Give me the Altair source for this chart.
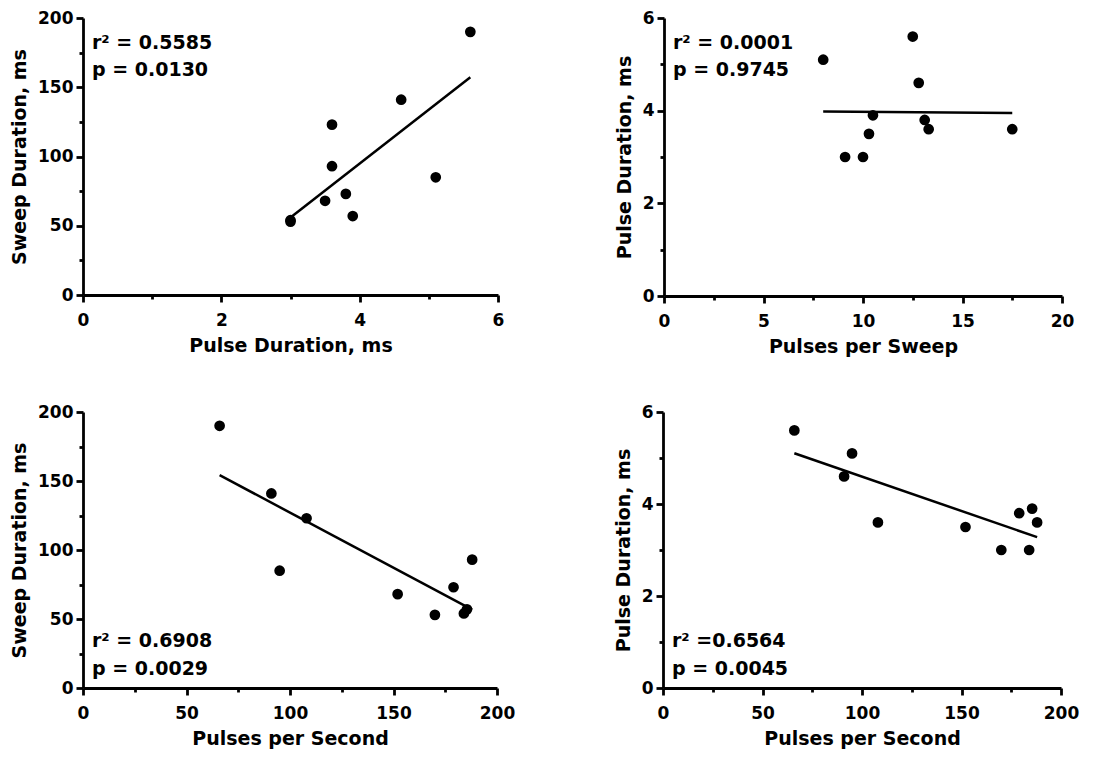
import altair as alt
import pandas as pd

pulse_duration = [5.6, 4.6, 5.1, 3.6, 3.5, 3.0, 3.8, 3.0, 3.9, 3.6]        # ms
sweep_duration = [190, 141, 85, 123, 68, 53, 73, 54, 57, 93]              # ms
pulses_per_second = [66, 91, 95, 108, 152, 170, 179, 184, 185.5, 188]
pulses_per_sweep = [12.5, 12.8, 8.0, 13.3, 10.3, 9.1, 13.1, 10.0, 10.5, 17.5]

ann_top_left = ["r\u00b2 = 0.5585", "p = 0.0130"]
ann_top_right = ["r\u00b2 = 0.0001", "p = 0.9745"]
ann_bottom_left = ["r\u00b2 = 0.6908", "p = 0.0029"]
ann_bottom_right = ["r\u00b2 =0.6564", "p = 0.0045"]

ticks_pd_major = [0, 2, 4, 6]
ticks_pd_minor = [1, 3, 5]
ticks_sd_major = [0, 50, 100, 150, 200]
ticks_sd_minor = [25, 75, 125, 175]
ticks_pps_major = [0, 5, 10, 15, 20]
ticks_pps_minor = [2.5, 7.5, 12.5, 17.5]
ticks_rate_major = [0, 50, 100, 150, 200]
ticks_rate_minor = [25, 75, 125, 175]

FONT = "DejaVu Sans"

df = pd.DataFrame({
    "pd": pulse_duration,
    "sd": sweep_duration,
    "rate": pulses_per_second,
    "pps": pulses_per_sweep,
})


def main_axis(values, orient, label_pad):
    return alt.Axis(values=values, orient=orient, tickSize=7, tickWidth=2.8,
                    tickColor="black", domainWidth=2.8, domainColor="black",
                    labelPadding=label_pad, labelFlush=False, labelOverlap=False,
                    titlePadding=8, grid=False, labelFont=FONT,
                    labelFontWeight="bold", labelFontSize=17, labelColor="black",
                    titleFont=FONT, titleFontWeight="bold", titleFontSize=19,
                    titleColor="black")


def minor_axis(values, orient):
    return alt.Axis(values=values, orient=orient, tickSize=4, tickWidth=2.8,
                    tickColor="black", labels=False, domain=False, grid=False)


def panel(xf, yf, xtitle, ytitle, xdom, xmaj, xmin, ydom, ymaj, ymin, w, h,
          ann, ann_y):
    base = alt.Chart(df)
    xs = alt.Scale(domain=xdom, nice=False, zero=True)
    ys = alt.Scale(domain=ydom, nice=False, zero=True)
    pts = base.mark_circle(size=115, color="black", opacity=1).encode(
        x=alt.X(f"{xf}:Q", scale=xs, axis=main_axis(xmaj, "bottom", 10),
                title=xtitle),
        y=alt.Y(f"{yf}:Q", scale=ys, axis=main_axis(ymaj, "left", 3),
                title=ytitle),
    )
    line = base.transform_regression(xf, yf).mark_line(
        color="black", strokeWidth=2.5).encode(
        x=alt.X(f"{xf}:Q", axis=None),
        y=alt.Y(f"{yf}:Q", axis=None),
    )
    minor = base.mark_point(opacity=0).encode(
        x=alt.X(f"{xf}:Q", axis=minor_axis(xmin, "bottom"), title=None),
        y=alt.Y(f"{yf}:Q", axis=minor_axis(ymin, "left"), title=None),
    )
    texts = []
    for line_txt, yv in zip(ann, ann_y):
        texts.append(
            alt.Chart(pd.DataFrame({"t": [line_txt]})).mark_text(
                align="left", baseline="alphabetic", font=FONT,
                fontWeight="bold", fontSize=19, color="black").encode(
                text="t:N", x=alt.value(9), y=alt.value(yv))
        )
    return alt.layer(pts, line, minor, *texts).resolve_axis(
        x="independent", y="independent").properties(width=w, height=h)


p1 = panel("pd", "sd", "Pulse Duration, ms", "Sweep Duration, ms",
           [0, 6], ticks_pd_major, ticks_pd_minor,
           [0, 200], ticks_sd_major, ticks_sd_minor, 415, 277,
           ann_top_left, [31, 58])
p2 = panel("pps", "pd", "Pulses per Sweep", "Pulse Duration, ms",
           [0, 20], ticks_pps_major, ticks_pps_minor,
           [0, 6], ticks_pd_major, ticks_pd_minor, 398, 278,
           ann_top_right, [31, 58])
p3 = panel("rate", "sd", "Pulses per Second", "Sweep Duration, ms",
           [0, 200], ticks_rate_major, ticks_rate_minor,
           [0, 200], ticks_sd_major, ticks_sd_minor, 414, 276,
           ann_bottom_left, [235, 263])
p4 = panel("rate", "pd", "Pulses per Second", "Pulse Duration, ms",
           [0, 200], ticks_rate_major, ticks_rate_minor,
           [0, 6], ticks_pd_major, ticks_pd_minor, 398, 276,
           ann_bottom_right, [235, 263])

chart = alt.vconcat(
    alt.hconcat(p1, p2, spacing=111),
    alt.hconcat(p3, p4, spacing=99),
    spacing=47,
).properties(
    padding={"left": 10, "top": 9, "right": 5, "bottom": 3},
    background="white",
).configure_view(strokeWidth=0)

chart.save("out.html", embed_options={"renderer": "svg", "actions": False})
